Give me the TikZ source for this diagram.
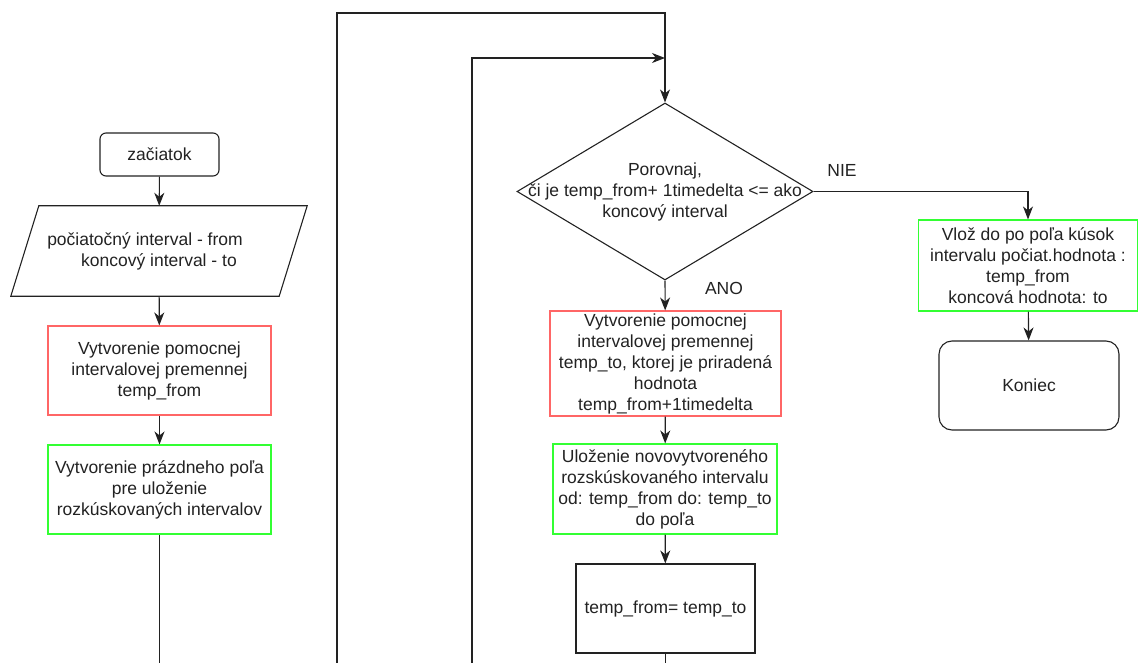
\documentclass[tikz,border=0pt]{standalone}
\usepackage{fontspec}
\setmainfont{Liberation Sans}
\usepackage{tikz}
\usetikzlibrary{arrows.meta,shapes.geometric}
\definecolor{redc}{RGB}{255,102,102}
\definecolor{greenc}{RGB}{51,255,51}
\definecolor{inkc}{RGB}{34,34,34}
\tikzset{
  box/.style      = {draw=inkc, line width=1.1pt, align=center, inner sep=0pt, text=inkc},
  term/.style     = {box, rounded corners=6pt},
  io/.style       = {align=center, inner sep=0pt, text=inkc},
  redbox/.style   = {box, draw=redc},
  greenbox/.style = {box, draw=greenc},
  decision/.style = {box, diamond},
  flow/.style     = {-{Stealth[length=13pt, width=10pt, inset=4pt]}, line width=1.1pt, draw=inkc},
  wire/.style     = {line width=1.1pt, draw=inkc},
  lbl/.style      = {text=inkc, align=center, inner sep=0pt},
}

\begin{document}
\begin{tikzpicture}[x=1pt, y=-1pt, font=\fontsize{17.5}{21}\selectfont]
\useasboundingbox (0,0) rectangle (1138,663);

% ---- left column ----
\node[term, minimum width=119pt, minimum height=43pt] (start) at (159.5,154.5) {začiatok};
\node[io, minimum width=268pt, minimum height=90pt] (input) at (159,251)
  {počiatočný interval - from\hspace*{28pt}\\koncový interval - to};
\draw[wire] ([xshift=14pt]input.north west) -- ([xshift=14pt]input.north east)
  -- ([xshift=-14pt]input.south east) -- ([xshift=-14pt]input.south west) -- cycle;
\node[redbox, minimum width=223pt, minimum height=89pt] (mkfrom) at (159.5,370.5)
  {Vytvorenie pomocnej\\intervalovej premennej\\temp\_from};
\node[greenbox, minimum width=223pt, minimum height=89pt] (mkarr) at (159.5,489.5)
  {Vytvorenie prázdneho poľa\\pre uloženie\\rozkúskovaných intervalov};
\coordinate (leftend) at (159.5,663);

\draw[flow] (start) -- (input);
\draw[flow] (input) -- (mkfrom);
\draw[flow] (mkfrom) -- (mkarr);
\draw[wire] (mkarr) -- (leftend);

% ---- loop (middle column) ----
\node[decision, minimum width=296pt, minimum height=177pt] (cmp) at (665,191.5) {};
\node[lbl] (cmptext) at (cmp) {Porovnaj,\\či je temp\_from+ 1timedelta <= ako\\koncový interval};
\node[redbox, minimum width=231pt, minimum height=105pt] (mkto) at (665.5,363.5)
  {Vytvorenie pomocnej\\intervalovej premennej\\temp\_to, ktorej je priradená\\hodnota\\temp\_from+1timedelta};
\node[greenbox, minimum width=224pt, minimum height=90pt] (store) at (665,489)
  {Uloženie novovytvoreného\\rozskúskovaného intervalu\\od: temp\_from do: temp\_to\\do poľa};
\node[box, minimum width=179pt, minimum height=89pt] (assign) at (665.5,608.5) {temp\_from= temp\_to};
\node[lbl] (ano) at (724,288) {ANO};
\coordinate (midend) at (665.5,663);

\coordinate (outerfoot) at (337,663);
\coordinate (outertop) at (337,13);
\coordinate (innerfoot) at (472,663);
\coordinate (innertop) at (472,58);

\draw[flow] (outerfoot) -- (outertop) -| (cmp.north);
\draw[flow] (innerfoot) -- (innertop) -- (innertop -| cmp.north);
\draw[flow] (cmp.south) -- (mkto);
\draw[flow] (mkto) -- (store);
\draw[flow] (store) -- (assign);
\draw[wire] (assign) -- (midend);

% ---- exit (right column) ----
\node[greenbox, minimum width=219pt, minimum height=91pt] (put) at (1028,265.5)
  {Vlož do po poľa kúsok\\intervalu počiat.hodnota :\\temp\_from\\koncová hodnota: to};
\node[term, rounded corners=13pt, minimum width=180pt, minimum height=89pt] (koniec) at (1029,385.5) {Koniec};
\node[lbl] (nie) at (842,170) {NIE};

\draw[flow] (cmp.east) -| (put.north);
\draw[flow] (put) -- (koniec);

\end{tikzpicture}
\end{document}
